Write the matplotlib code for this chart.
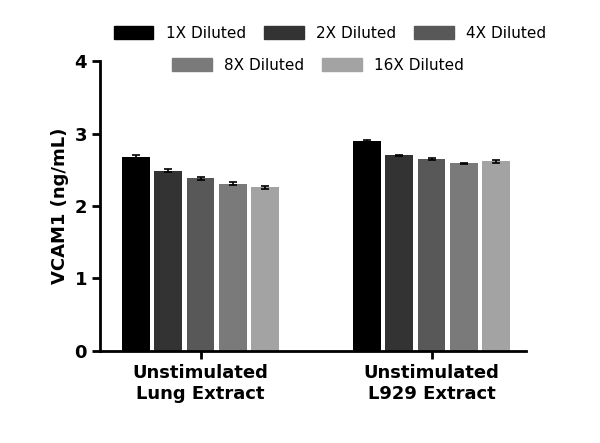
import matplotlib
matplotlib.use("Agg")
import matplotlib.pyplot as plt
from matplotlib.patches import Patch

groups = ["Unstimulated\nLung Extract", "Unstimulated\nL929 Extract"]
series = ["1X Diluted", "2X Diluted", "4X Diluted", "8X Diluted", "16X Diluted"]
values = [[2.67, 2.90], [2.49, 2.70], [2.38, 2.65], [2.31, 2.59], [2.26, 2.62]]
errors = [[0.03, 0.01], [0.02, 0.01], [0.02, 0.01], [0.02, 0.01], [0.02, 0.02]]
colors = ["#000000", "#333333", "#585858", "#7a7a7a", "#a3a3a3"]

fig = plt.figure(figsize=(6, 4.43), dpi=100)
ax = fig.add_axes([0.167, 0.208, 0.71, 0.654])
step, w = 0.14, 0.12
for i, (s, v, e, c) in enumerate(zip(series, values, errors, colors)):
    xs = [g + (i - 2) * step for g in range(len(groups))]
    ax.bar(xs, v, w, color=c, yerr=e, capsize=3, error_kw=dict(ecolor="black", elinewidth=1.2, capthick=1.2))
ax.set_ylim(0, 4)
ax.set_xlim(-0.435, 1.41)
ax.set_yticks([0, 1, 2, 3, 4])
ax.set_xticks(range(len(groups)))
ax.set_xticklabels(groups, fontsize=13, fontweight="bold")
for t in ax.get_yticklabels():
    t.set_fontsize(13); t.set_fontweight("bold")
ax.set_ylabel("VCAM1 (ng/mL)", fontsize=13, fontweight="bold")
for sp in ["top", "right"]:
    ax.spines[sp].set_visible(False)
for sp in ["left", "bottom"]:
    ax.spines[sp].set_linewidth(2)
ax.tick_params(width=2, length=6)

h = [Patch(color=c) for c in colors]
l1 = fig.legend(h[:3], series[:3], loc="center", bbox_to_anchor=(0.55, 0.925), ncol=3, frameon=False,
                fontsize=11, handlelength=2.6, handleheight=0.9, columnspacing=1.2)
fig.legend(h[3:], series[3:], loc="center", bbox_to_anchor=(0.53, 0.852), ncol=2, frameon=False,
           fontsize=11, handlelength=2.6, handleheight=0.9, columnspacing=1.2)
fig.savefig("out.png", dpi=100)
